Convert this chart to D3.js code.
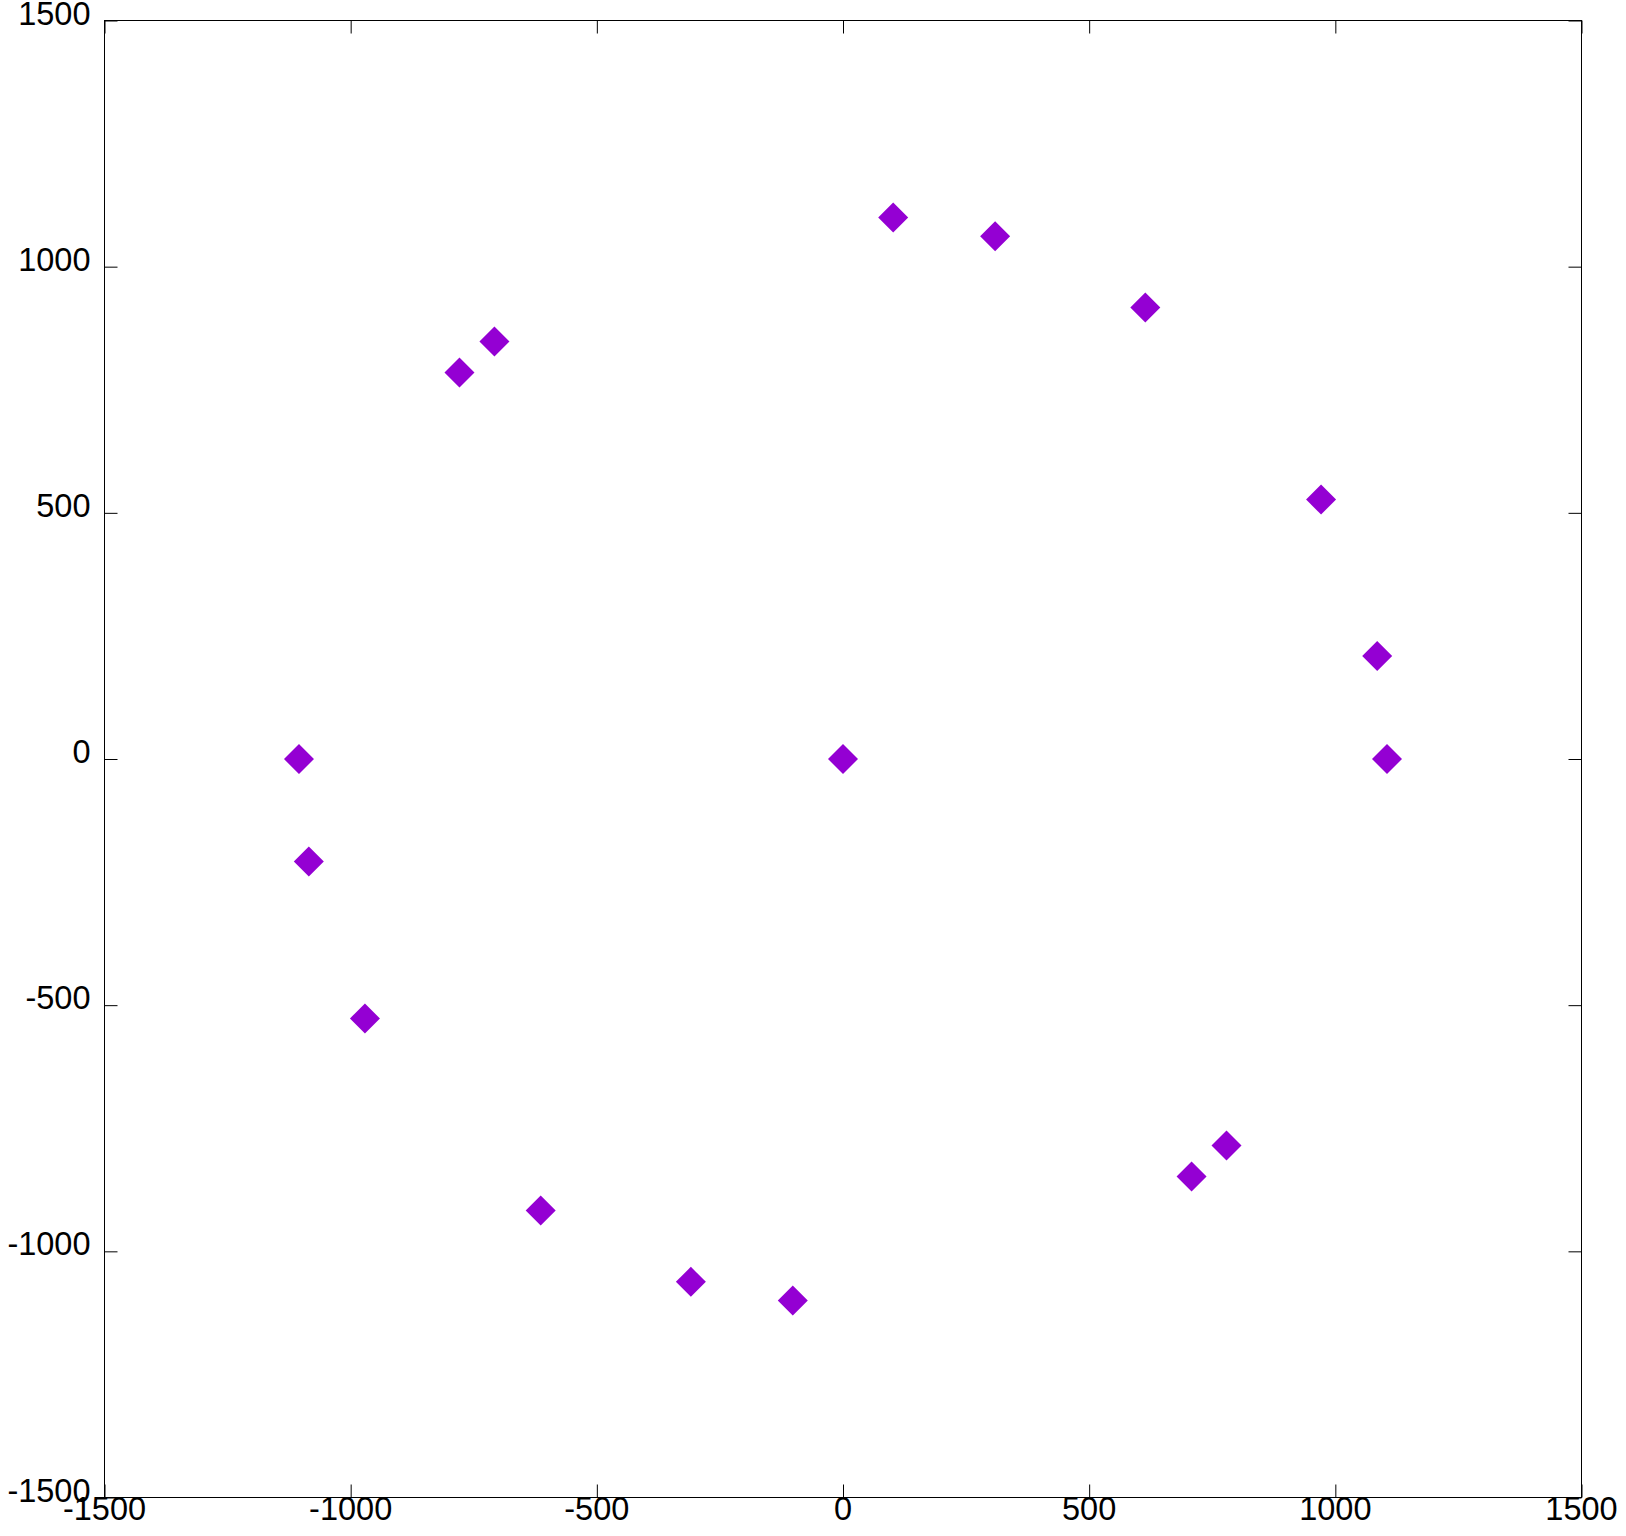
<!DOCTYPE html>
<html>
<head>
<meta charset="utf-8">
<script src="https://cdn.jsdelivr.net/npm/d3@7"></script>
<style>
  html, body { margin: 0; padding: 0; background: #fff; }
  svg { display: block; }
  text { font-family: "Liberation Sans", Arial, sans-serif; font-size: 32.5px; fill: #000; }
</style>
</head>
<body>
<svg id="chart" width="1626" height="1536"></svg>
<script>
// Data points (x, y)
const xValues = [0, 1105, 1085, 971, 614, 309, 102, -708, -779, -1105, -1085, -971, -614, -309, -102, 708, 779];
const yValues = [0, 0, 209, 527, 917, 1062, 1100, 848, 785, 0, -208, -527, -917, -1062, -1100, -848, -785];
const xTicks = [-1500, -1000, -500, 0, 500, 1000, 1500];
const yTicks = [-1500, -1000, -500, 0, 500, 1000, 1500];

(function () {
  const mLeft = 104.5, mRight = 1581.5, mTop = 20.5, mBottom = 1497.5;
  const svg = d3.select("#chart");

  const x = d3.scaleLinear().domain([-1500, 1500]).range([mLeft, mRight]);
  const y = d3.scaleLinear().domain([-1500, 1500]).range([mBottom, mTop]);

  const tickLen = 13;

  // Frame
  svg.append("rect")
    .attr("x", mLeft).attr("y", mTop)
    .attr("width", mRight - mLeft).attr("height", mBottom - mTop)
    .attr("fill", "none").attr("stroke", "#000").attr("stroke-width", 1);

  // Inward ticks on all four sides
  const bx = svg.append("g").attr("transform", `translate(0,${mBottom})`)
    .call(d3.axisTop(x).tickValues(xTicks).tickSize(tickLen).tickFormat(""));
  const tx = svg.append("g").attr("transform", `translate(0,${mTop})`)
    .call(d3.axisBottom(x).tickValues(xTicks).tickSize(tickLen).tickFormat(""));
  const ly = svg.append("g").attr("transform", `translate(${mLeft},0)`)
    .call(d3.axisRight(y).tickValues(yTicks).tickSize(tickLen).tickFormat(""));
  const ry = svg.append("g").attr("transform", `translate(${mRight},0)`)
    .call(d3.axisLeft(y).tickValues(yTicks).tickSize(tickLen).tickFormat(""));
  [bx, tx, ly, ry].forEach(g => {
    g.select(".domain").remove();
    g.selectAll(".tick line").attr("stroke", "#000").attr("stroke-width", 1);
    g.selectAll("text").remove();
  });

  // Tick labels
  svg.append("g").selectAll("text").data(xTicks).join("text")
    .attr("x", d => x(d)).attr("y", mBottom + 22.5)
    .attr("text-anchor", "middle")
    .text(d => d);
  svg.append("g").selectAll("text").data(yTicks).join("text")
    .attr("x", mLeft - 14).attr("y", d => y(d) + 4)
    .attr("text-anchor", "end")
    .text(d => d);

  // Points
  const pts = xValues.map((v, i) => ({x: v, y: yValues[i]}));
  const sym = d3.symbol().type(d3.symbolSquare).size(450);
  svg.append("g").selectAll("path").data(pts).join("path")
    .attr("d", sym)
    .attr("transform", d => `translate(${x(d.x)},${y(d.y)}) rotate(45)`)
    .attr("fill", "#9400D3");
})();
</script>
</body>
</html>
